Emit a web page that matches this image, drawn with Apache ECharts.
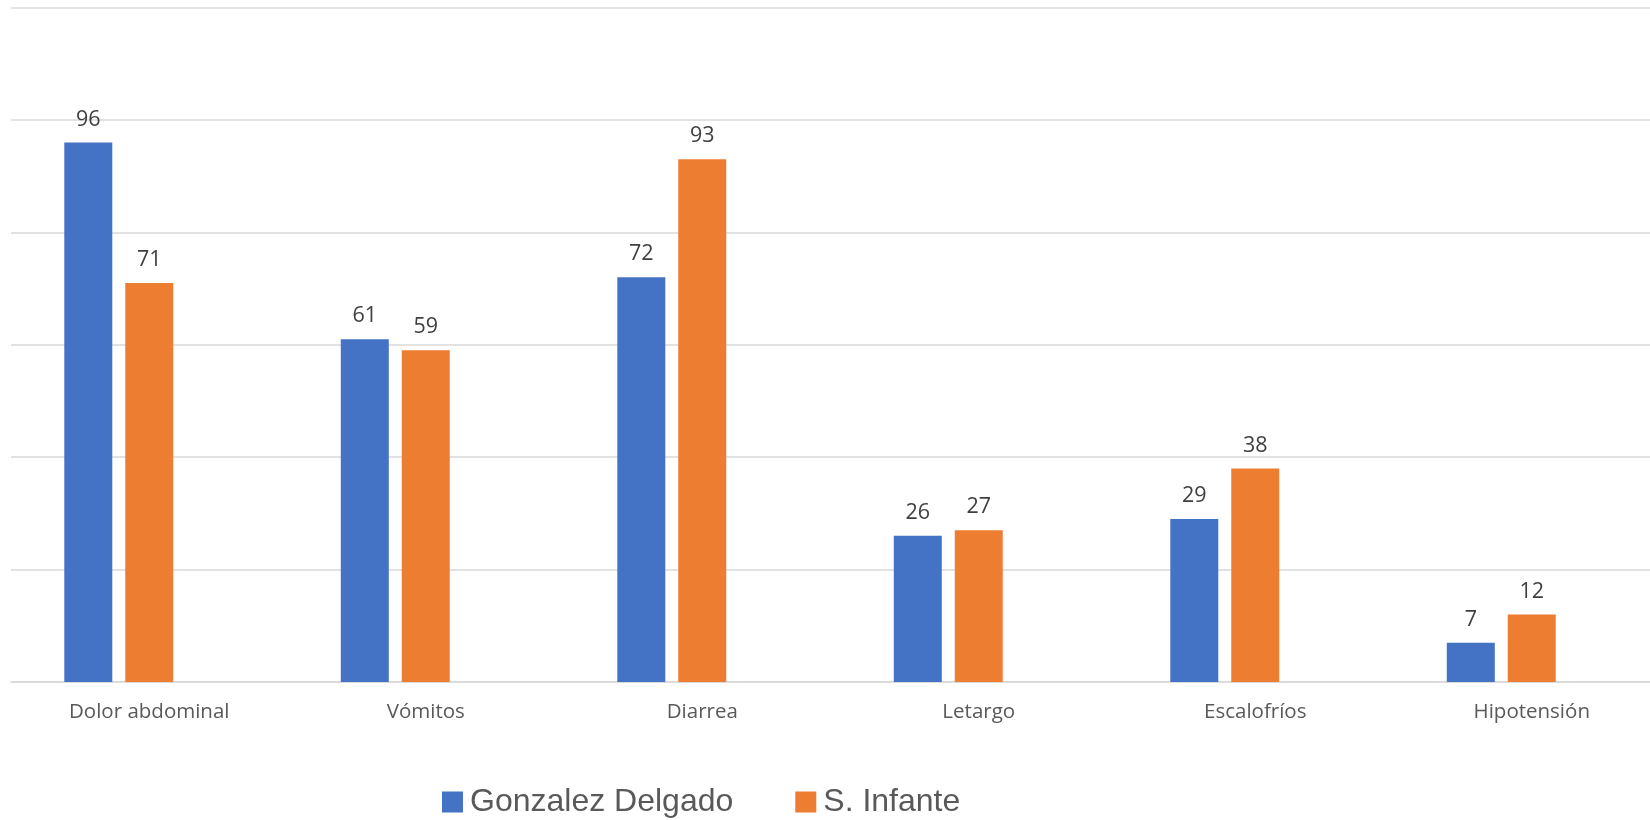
<!DOCTYPE html>
<html>
<head>
<meta charset="utf-8">
<script src="https://cdn.jsdelivr.net/npm/echarts@6/dist/echarts.min.js"></script>
<style>
  html, body { margin: 0; padding: 0; background: #ffffff; }
  #chart { width: 1650px; height: 820px; }
</style>
</head>
<body>
<div id="chart"></div>
<script>
// Síntomas registrados por centro
const categories = ['Dolor abdominal', 'Vómitos', 'Diarrea', 'Letargo', 'Escalofríos', 'Hipotensión'];
const gonzalezDelgado = [96, 61, 72, 26, 29, 7];
const sInfante = [71, 59, 93, 27, 38, 12];
// Third slot in each cluster is left empty
const emptySlot = [null, null, null, null, null, null];
const yTicks = [0, 20, 40, 60, 80, 100, 120];

const chart = echarts.init(document.getElementById('chart'));

const labelStyle = {
  show: true,
  position: 'top',
  distance: 12,
  color: '#404040',
  fontFamily: 'Open Sans',
  fontSize: 21.5
};

chart.setOption({
  animation: false,
  backgroundColor: '#ffffff',
  grid: { left: 11, right: -20, top: 7.5, bottom: 138, containLabel: false, outerBoundsMode: 'none' },
  legend: {
    data: ['Gonzalez Delgado', 'S. Infante'],
    left: 437,
    top: 781,
    icon: 'rect',
    itemWidth: 21,
    itemHeight: 21,
    itemGap: 62,
    textStyle: { fontFamily: 'Liberation Sans', fontSize: 32, color: '#595959', padding: [0, 0, 0, 2] }
  },
  xAxis: {
    type: 'category',
    data: categories,
    axisTick: { show: false },
    axisLine: { lineStyle: { color: '#d9d9d9', width: 1.5 } },
    axisLabel: { color: '#595959', fontFamily: 'Open Sans', fontSize: 20.5, margin: 20 }
  },
  yAxis: {
    type: 'value',
    min: yTicks[0],
    max: yTicks[yTicks.length - 1],
    interval: yTicks[1] - yTicks[0],
    axisLabel: { show: false },
    axisLine: { show: false },
    axisTick: { show: false },
    splitLine: { lineStyle: { color: '#d9d9d9', width: 1.5 } }
  },
  series: [
    {
      name: 'Gonzalez Delgado',
      type: 'bar',
      data: gonzalezDelgado,
      barWidth: 48,
      barGap: '27%',
      itemStyle: { color: '#4472C4' },
      label: labelStyle
    },
    {
      name: 'S. Infante',
      type: 'bar',
      data: sInfante,
      barWidth: 48,
      barGap: '27%',
      itemStyle: { color: '#ED7D31' },
      label: labelStyle
    },
    {
      name: '',
      type: 'bar',
      data: emptySlot,
      barWidth: 48,
      barGap: '27%',
      itemStyle: { color: '#A5A5A5' }
    }
  ]
});
</script>
</body>
</html>
